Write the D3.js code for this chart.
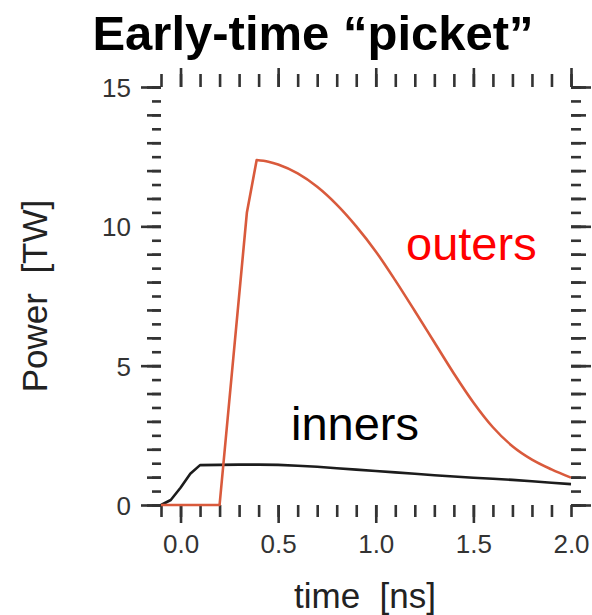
<!DOCTYPE html>
<html>
<head>
<meta charset="utf-8">
<script src="https://cdn.jsdelivr.net/npm/d3@7"></script>
<style>
  body { margin: 0; background: #fff; }
  text { font-family: "Liberation Sans", Arial, Helvetica, sans-serif; }
</style>
</head>
<body>
<div id="chart"></div>
<script>
// Data
var innerT = [-0.1, -0.05, 0.0, 0.05, 0.1, 0.2, 0.3, 0.4, 0.5, 0.6, 0.7, 0.8, 0.9, 1.0,
              1.1, 1.2, 1.3, 1.4, 1.5, 1.6, 1.7, 1.8, 1.9, 2.0];
var innerP = [0, 0.18, 0.62, 1.12, 1.43, 1.44, 1.45, 1.45, 1.44, 1.41, 1.37, 1.32, 1.27, 1.22,
              1.17, 1.12, 1.07, 1.02, 0.98, 0.94, 0.9, 0.85, 0.8, 0.75];

var outerT = [-0.1, 0.2, 0.34, 0.39, 0.45, 0.5, 0.6, 0.7, 0.8, 0.9, 1.0,
              1.1, 1.2, 1.3, 1.4, 1.5, 1.6, 1.7, 1.8, 1.9, 2.0];
var outerP = [0, 0, 10.5, 12.38, 12.32, 12.22, 11.9, 11.42, 10.78, 10.0, 9.1,
              8.06, 6.96, 5.84, 4.72, 3.68, 2.79, 2.11, 1.63, 1.28, 0.98];
var outerPeak = 3; // index of the peak, the rise is straight, the fall is smooth

var xMinorTicks  = d3.range(-1, 21).map(function(i) { return i / 10; });
var xMajorTicks  = [0, 0.5, 1.0, 1.5];
var xLabelTicks  = [0, 0.5, 1.0, 1.5, 2.0];
var yHalfTicks   = d3.range(0, 31).map(function(i) { return i / 2; });
var yIntTicks    = d3.range(0, 16);
var yMajorTicks  = [0, 5, 10, 15];

// Width and height
var chart_width  = 592;
var chart_height = 615;

var x = d3.scaleLinear().domain([-0.1, 2.0]).range([161, 571]);
var y = d3.scaleLinear().domain([0, 15]).range([505, 87]);

var svg = d3.select("#chart")
    .append("svg")
    .attr("width", chart_width)
    .attr("height", chart_height);

var tickColor = "#333";

function tickAxis(axis, tf) {
    var g = svg.append("g").attr("transform", tf).call(axis);
    g.select(".domain").remove();
    g.selectAll("line").attr("stroke", tickColor).attr("stroke-width", 2.6);
    return g;
}

// bottom ticks
tickAxis(d3.axisBottom(x).tickValues(xMinorTicks).tickSize(12).tickFormat(""), "translate(0," + y(0) + ")");
tickAxis(d3.axisBottom(x).tickValues(xMajorTicks).tickSize(18).tickFormat(""), "translate(0," + y(0) + ")");
// top ticks
tickAxis(d3.axisTop(x).tickValues(xMinorTicks).tickSize(13).tickFormat(""), "translate(0," + y(15) + ")");
tickAxis(d3.axisTop(x).tickValues(xLabelTicks).tickSize(19).tickFormat(""), "translate(0," + y(15) + ")");
// left ticks
tickAxis(d3.axisLeft(y).tickValues(yHalfTicks).tickSize(9).tickFormat(""), "translate(" + x(-0.1) + ",0)");
tickAxis(d3.axisLeft(y).tickValues(yIntTicks).tickSize(14).tickFormat(""), "translate(" + x(-0.1) + ",0)");
tickAxis(d3.axisLeft(y).tickValues(yMajorTicks).tickSize(20).tickFormat(""), "translate(" + x(-0.1) + ",0)");
// right ticks
tickAxis(d3.axisRight(y).tickValues(yHalfTicks).tickSize(10).tickFormat(""), "translate(" + x(2.0) + ",0)");
tickAxis(d3.axisRight(y).tickValues(yIntTicks).tickSize(15).tickFormat(""), "translate(" + x(2.0) + ",0)");
tickAxis(d3.axisRight(y).tickValues(yMajorTicks).tickSize(20).tickFormat(""), "translate(" + x(2.0) + ",0)");

// tick labels
var xl = svg.append("g")
    .attr("transform", "translate(0," + y(0) + ")")
    .call(d3.axisBottom(x).tickValues(xLabelTicks).tickSize(0).tickFormat(d3.format(".1f")));
xl.select(".domain").remove();
xl.selectAll("text")
    .attr("y", 48).attr("dy", null)
    .style("font-size", "26px").style("font-family", "Liberation Sans, Arial, sans-serif")
    .attr("fill", tickColor);

var yl = svg.append("g")
    .attr("transform", "translate(" + x(-0.1) + ",0)")
    .call(d3.axisLeft(y).tickValues(yMajorTicks).tickSize(0).tickPadding(30).tickFormat(d3.format("d")));
yl.select(".domain").remove();
yl.selectAll("text")
    .attr("dy", "0.36em")
    .style("font-size", "26px").style("font-family", "Liberation Sans, Arial, sans-serif")
    .attr("fill", tickColor);

// Lines
var line = d3.line()
    .x(function(d) { return x(d[0]); })
    .y(function(d) { return y(d[1]); });
var smooth = d3.line()
    .x(function(d) { return x(d[0]); })
    .y(function(d) { return y(d[1]); })
    .curve(d3.curveMonotoneX);

svg.append("path")
    .datum(d3.zip(innerT, innerP))
    .attr("d", line)
    .attr("fill", "none")
    .attr("stroke", "#1c1c1c")
    .attr("stroke-width", 2.6)
    .attr("stroke-linejoin", "round");

var outer = d3.zip(outerT, outerP);
var outerPath = line(outer.slice(0, outerPeak + 1)) + smooth(outer.slice(outerPeak)).replace(/^M/, "L");

svg.append("path")
    .attr("d", outerPath)
    .attr("fill", "none")
    .attr("stroke", "#d95a3c")
    .attr("stroke-width", 2.6)
    .attr("stroke-linejoin", "round");

// Texts
svg.append("text")
    .attr("x", 313).attr("y", 50)
    .attr("text-anchor", "middle")
    .style("font-size", "49px").style("font-weight", "bold")
    .attr("fill", "#000")
    .text("Early-time \u201cpicket\u201d");

svg.append("text")
    .attr("x", 365).attr("y", 608)
    .attr("text-anchor", "middle")
    .attr("fill", "#222")
    .style("font-size", "35px")
    .text("time\u00a0\u00a0[ns]");

svg.append("text")
    .attr("transform", "translate(47,296) rotate(-90)")
    .attr("text-anchor", "middle")
    .style("font-size", "35px")
    .attr("fill", "#222")
    .text("Power\u00a0\u00a0[TW]");

svg.append("text")
    .attr("x", 406).attr("y", 260)
    .style("font-size", "47px")
    .attr("fill", "#ff0000")
    .text("outers");

svg.append("text")
    .attr("x", 291).attr("y", 440)
    .style("font-size", "47px")
    .attr("fill", "#000")
    .text("inners");
</script>
</body>
</html>
